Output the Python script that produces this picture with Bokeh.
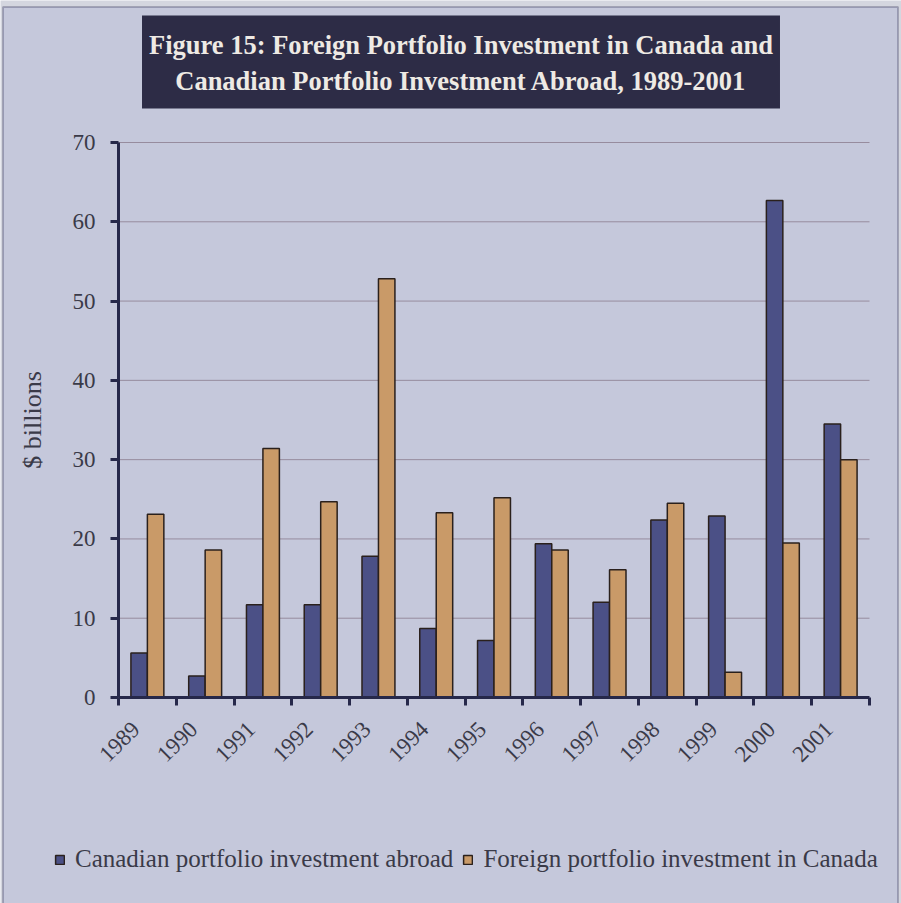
import numpy as np
from bokeh.plotting import figure
from bokeh.models import (Range1d, FixedTicker, ColumnDataSource, Legend, LegendItem,
                          Label, BoxAnnotation)
from bokeh.transform import dodge
from bokeh.embed import file_html
from bokeh.resources import INLINE

# ---- data ----
years = ["1989", "1990", "1991", "1992", "1993", "1994", "1995",
         "1996", "1997", "1998", "1999", "2000", "2001"]
abroad = [5.6, 2.7, 11.7, 11.7, 17.8, 8.7, 7.2, 19.4, 12.0, 22.4, 22.9, 62.7, 34.5]
in_canada = [23.1, 18.6, 31.4, 24.7, 52.8, 23.3, 25.2, 18.6, 16.1, 24.5, 3.2, 19.5, 30.0]
y_ticks = [0, 10, 20, 30, 40, 50, 60, 70]
series_names = ["Canadian portfolio investment abroad",
                "Foreign portfolio investment in Canada"]
title_lines = ["Figure 15: Foreign Portfolio Investment in Canada and",
               "Canadian Portfolio Investment Abroad, 1989-2001"]
y_label = "$ billions"

# ---- styles / layout ----
W, H = 901, 903
PX_LEFT, PX_RIGHT, PX_TOP, PX_BOTTOM = 118, 869, 142, 697
BG = "#c5c8db"
OUTER = "#d4d6df"
NAVY = "#2d2c46"
FRAME_LINE = "#2e3052"
BLUE = "#4b5086"
ORANGE = "#c99a68"
BAR_LINE = "#2a201c"
AXIS = "#26284a"
GRID = "#978c9e"
TXT = "#3a3a48"
FONT = "Liberation Serif"
LABEL_SHIFT = -0.2

n = len(years)
ymax = y_ticks[-1]
ux = (PX_RIGHT - PX_LEFT) / n
uy = (PX_BOTTOM - PX_TOP) / ymax
x_range = Range1d(-PX_LEFT / ux, n + (W - PX_RIGHT) / ux)
y_range = Range1d(-(H - PX_BOTTOM) / uy, ymax + PX_TOP / uy)

pos = [i + 0.5 for i in range(n)]
label_pos = [round(x + LABEL_SHIFT, 3) for x in pos]
bounds = list(range(n + 1))
src = ColumnDataSource(dict(x=pos, abroad=abroad, canada=in_canada))
grid_src = ColumnDataSource(dict(y=y_ticks[1:], x0=[0] * (len(y_ticks) - 1),
                                 x1=[n] * (len(y_ticks) - 1)))

p = figure(width=W, height=H, x_range=x_range, y_range=y_range,
           output_backend="svg", toolbar_location=None, min_border=0)
p.background_fill_color = OUTER
p.border_fill_color = OUTER
p.outline_line_color = None
p.xgrid.visible = False
p.ygrid.visible = False

# panel with border
panel = BoxAnnotation(left=2.5, right=W - 3.5, top=H - 6.5, bottom=-20,
                      left_units="screen", right_units="screen",
                      top_units="screen", bottom_units="screen",
                      fill_color=BG, fill_alpha=1.0, line_color=FRAME_LINE,
                      line_width=2, level="underlay")
p.add_layout(panel)

# gridlines
p.segment(x0="x0", x1="x1", y0="y", y1="y", source=grid_src,
          line_color=GRID, line_width=1)

bw = 0.285
r1 = p.vbar(x=dodge("x", -bw / 2), top="abroad", width=bw, source=src,
            fill_color=BLUE, line_color=BAR_LINE, line_width=1.5)
r2 = p.vbar(x=dodge("x", bw / 2), top="canada", width=bw, source=src,
            fill_color=ORANGE, line_color=BAR_LINE, line_width=1.5)

# x axis
xa = p.xaxis[0]
xa.fixed_location = 0
xa.bounds = (0, n)
xa.ticker = FixedTicker(ticks=label_pos, minor_ticks=bounds)
xa.major_label_overrides = {x: y for x, y in zip(label_pos, years)}
xa.major_tick_out = 0
xa.major_tick_in = 0
xa.minor_tick_out = 8
xa.minor_tick_in = 0
xa.minor_tick_line_width = 3
xa.minor_tick_line_color = AXIS
xa.axis_line_width = 3
xa.axis_line_color = AXIS
xa.major_label_orientation = np.pi / 4
xa.major_label_standoff = 20
xa.major_label_text_font = FONT
xa.major_label_text_font_size = "23px"
xa.major_label_text_color = TXT

# y axis
ya = p.yaxis[0]
ya.fixed_location = 0
ya.bounds = (0, ymax)
ya.ticker = FixedTicker(ticks=y_ticks)
ya.minor_tick_line_color = None
ya.major_tick_out = 8
ya.major_tick_in = 0
ya.major_tick_line_width = 3
ya.major_tick_line_color = AXIS
ya.axis_line_width = 3
ya.axis_line_color = AXIS
ya.major_label_standoff = 15
ya.major_label_text_font = FONT
ya.major_label_text_font_size = "23px"
ya.major_label_text_color = TXT
ya.axis_label = y_label
ya.axis_label_text_font = FONT
ya.axis_label_text_font_size = "26px"
ya.axis_label_text_font_style = "normal"
ya.axis_label_text_color = TXT
ya.axis_label_standoff = 23

legend = Legend(items=[LegendItem(label=series_names[0], renderers=[r1]),
                       LegendItem(label=series_names[1], renderers=[r2])],
                orientation="horizontal", location=(54, 30),
                padding=0, margin=0, spacing=9,
                glyph_width=11, glyph_height=11, label_standoff=10,
                label_text_font=FONT, label_text_font_size="25px",
                label_text_color=TXT,
                border_line_color=None, background_fill_alpha=0)
p.add_layout(legend, "center")

title = Label(x=460.5, y=H - 61.5, x_units="screen", y_units="screen",
              text="\n".join(title_lines), text_align="center", text_baseline="middle",
              text_font=FONT, text_font_size="26.5px", text_font_style="bold",
              text_color="#eeeae4", text_line_height=1.2,
              background_fill_color=NAVY,
              padding=dict(left=7, right=7, top=14, bottom=13))
p.add_layout(title)

open("out.html", "w").write(file_html(p, INLINE))
